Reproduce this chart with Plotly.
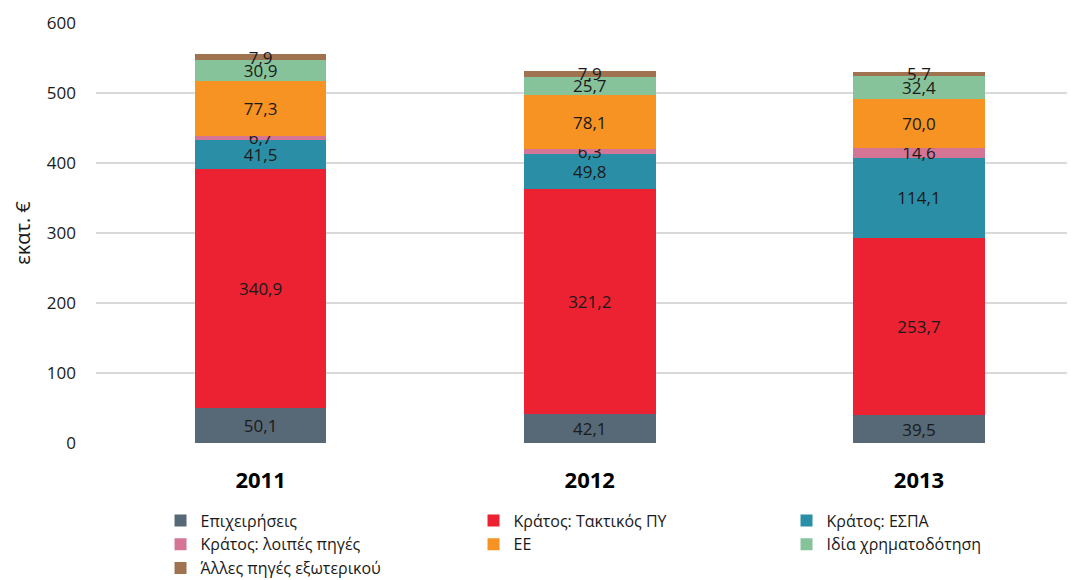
import plotly.graph_objects as go

years = ["2011", "2012", "2013"]
series_names = [
    "Επιχειρήσεις",
    "Κράτος: Τακτικός ΠΥ",
    "Κράτος: ΕΣΠΑ",
    "Κράτος: λοιπές πηγές",
    "ΕΕ",
    "Ιδία χρηματοδότηση",
    "Άλλες πηγές εξωτερικού",
]
epixeiriseis = [50.1, 42.1, 39.5]
kratos_taktikos = [340.9, 321.2, 253.7]
kratos_espa = [41.5, 49.8, 114.1]
kratos_loipes = [6.7, 6.3, 14.6]
ee = [77.3, 78.1, 70.0]
idia = [30.9, 25.7, 32.4]
alles = [7.9, 7.9, 5.7]
series_values = [epixeiriseis, kratos_taktikos, kratos_espa, kratos_loipes, ee, idia, alles]
colors = ["#576877", "#ec2233", "#2a8fa6", "#d57596", "#f69322", "#86c39a", "#9f7250"]

FONT = "Open Sans"

fig = go.Figure()
for name, vals, col in zip(series_names, series_values, colors):
    fig.add_trace(go.Bar(
        x=years, y=vals, name=name,
        marker=dict(color=col, line=dict(width=0)),
        width=0.4,
        text=[f"{v:.1f}".replace(".", ",") for v in vals],
        textposition="inside",
        insidetextanchor="middle",
        textangle=0,
        textfont=dict(family=FONT, size=17, color="#1a1a1a"),
        hoverinfo="skip",
    ))

fig.update_layout(
    barmode="stack",
    width=1075, height=580,
    margin=dict(l=88, r=8, t=15, b=145, autoexpand=False),
    paper_bgcolor="white", plot_bgcolor="white",
    font=dict(family=FONT, color="#1a1a1a"),
    uniformtext=dict(minsize=17, mode="show"),
    showlegend=True,
    legend=dict(
        orientation="h",
        x=0.0659, xanchor="left",
        y=-0.144, yanchor="top",
        entrywidth=268, entrywidthmode="pixels",
        font=dict(family=FONT, size=16, color="#1a1a1a"),
        traceorder="normal",
        tracegroupgap=0,
        itemwidth=30,
    ),
    xaxis=dict(
        type="category",
        range=[-0.5, 2.474],
        showgrid=False, zeroline=False, showline=False,
        ticks="",
        tickfont=dict(family=FONT, size=22, color="#000000", weight="bold"),
        ticklabelstandoff=22,
        automargin=False,
    ),
    yaxis=dict(
        range=[0, 600], dtick=100,
        showgrid=True, gridcolor="#d9d9d9", gridwidth=1.5,
        zeroline=False, showline=False, ticks="",
        tickfont=dict(family=FONT, size=17, color="#1a1a1a"),
        ticklabelstandoff=19,
        title=dict(text="εκατ. €", font=dict(family=FONT, size=20, color="#1a1a1a"), standoff=10),
        automargin=False,
    ),
)

fig.write_html("out.html")
